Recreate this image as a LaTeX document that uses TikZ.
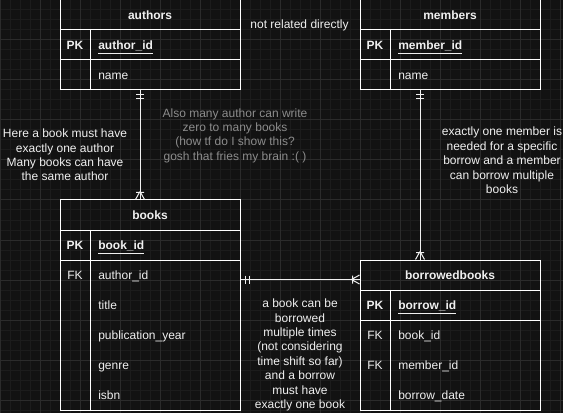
\documentclass[tikz,border=0pt]{standalone}
\usepackage{fontspec}
\setmainfont{Liberation Sans}
\usetikzlibrary{calc}
\definecolor{canvas}{HTML}{121212}
\definecolor{gridfine}{HTML}{1C1C1C}
\definecolor{gridbold}{HTML}{2B2B2B}
\definecolor{ink}{HTML}{F0F0F0}
\definecolor{faint}{HTML}{8C8C8C}
\def\drawiofont{\fontsize{9}{10.8}\selectfont}
\def\erone[#1](#2)(#3){\draw[#1,shift={(#2)},rotate=#3] (4.5,-4) -- (4.5,4) (8.5,-4) -- (8.5,4);}
\def\ermany[#1](#2)(#3){\draw[#1,shift={(#2)},rotate=#3] (7,-4) -- (7,4) (8,0) -- (0,-4.5) (8,0) -- (0,4.5);}

\begin{document}
\begin{tikzpicture}[x=0.75pt,y=-0.75pt,
	tbl/.style={draw=white, line width=0.75pt, inner sep=0pt, minimum width=135pt},
	tblline/.style={draw=white, line width=0.75pt},
	relation/.style={draw=ink, line width=0.75pt},
	tbltitle/.style={text=ink, font=\drawiofont\bfseries},
	keytag/.style={text=ink, font=\drawiofont\bfseries},
	field/.style={text=ink, font=\drawiofont, anchor=west, inner sep=0pt, text height=9.05pt, text depth=1.75pt},
	note/.style={text=ink, font=\drawiofont, align=center, inner sep=0pt},
	greynote/.style={note, text=faint}]
	%%%%% CANVAS %%%%%
	\useasboundingbox (0,0) rectangle (563,413);
	\fill[canvas] (0,0) rectangle (563,413);
	\foreach \gx in {0,10,...,560} \draw[gridfine, line width=0.75pt] (\gx,0) -- (\gx,413);
	\foreach \gy in {0,10,...,410} \draw[gridfine, line width=0.75pt] (0,\gy) -- (563,\gy);
	\foreach \gx in {0,40,...,560} \draw[gridbold, line width=0.75pt] (\gx,0) -- (\gx,413);
	\foreach \gy in {0,40,...,400} \draw[gridbold, line width=0.75pt] (0,\gy) -- (563,\gy);
	
	%%%%% AUTHORS %%%%%
	\node[tbl, minimum height=67.5pt] (authors) at (150,45) {};
	\draw[tblline] (60,30) -- (240,30);
	\draw[tblline] (60,60) -- (240,60);
	\draw[tblline] (90,30) -- (90,90);
	\node[tbltitle] (authorstitle) at (150,15) {authors};
	\node[keytag] (authorspk) at (75,45) {PK};
	\node[field, font=\drawiofont\bfseries] (authorsid) at (98,45) {\underline{author\_id}};
	\node[field] (authorsname) at (98,75) {name};
	
	%%%%% MEMBERS %%%%%
	\node[tbl, minimum height=67.5pt] (members) at (450,45) {};
	\draw[tblline] (360,30) -- (540,30);
	\draw[tblline] (360,60) -- (540,60);
	\draw[tblline] (390,30) -- (390,90);
	\node[tbltitle] (memberstitle) at (450,15) {members};
	\node[keytag] (memberspk) at (375,45) {PK};
	\node[field, font=\drawiofont\bfseries] (membersid) at (398,45) {\underline{member\_id}};
	\node[field] (membersname) at (398,75) {name};
	
	%%%%% BOOKS %%%%%
	\node[tbl, minimum height=157.5pt] (books) at (150,305) {};
	\draw[tblline] (60,230) -- (240,230);
	\draw[tblline] (60,260) -- (240,260);
	\draw[tblline] (90,230) -- (90,410);
	\node[tbltitle] (bookstitle) at (150,215) {books};
	\node[keytag] (bookspk) at (75,245) {PK};
	\node[field, font=\drawiofont\bfseries] (booksid) at (98,245) {\underline{book\_id}};
	\node[keytag, font=\drawiofont] (booksfk) at (75,275) {FK};
	\node[field] (booksauthor) at (98,275) {author\_id};
	\node[field] (bookstitlefield) at (98,305) {title};
	\node[field] (booksyear) at (98,335) {publication\_year};
	\node[field] (booksgenre) at (98,365) {genre};
	\node[field] (booksisbn) at (98,395) {isbn};
	
	%%%%% BORROWEDBOOKS %%%%%
	\node[tbl, minimum height=112.5pt] (borrowed) at (450,335) {};
	\draw[tblline] (360,290) -- (540,290);
	\draw[tblline] (360,320) -- (540,320);
	\draw[tblline] (390,290) -- (390,410);
	\node[tbltitle] (borrowedtitle) at (450,275) {borrowedbooks};
	\node[keytag] (borrowedpk) at (375,305) {PK};
	\node[field, font=\drawiofont\bfseries] (borrowedid) at (398,305) {\underline{borrow\_id}};
	\node[keytag, font=\drawiofont] (borrowedfkone) at (375,335) {FK};
	\node[field] (borrowedbook) at (398,335) {book\_id};
	\node[keytag, font=\drawiofont] (borrowedfktwo) at (375,365) {FK};
	\node[field] (borrowedmember) at (398,365) {member\_id};
	\node[field] (borroweddate) at (398,395) {borrow\_date};
	
	%%%%% RELATIONS %%%%%
	\coordinate (authorsout) at ($(authors.south)+(-10,0)$);
	\coordinate (booksin) at ($(books.north)+(-10,0)$);
	\coordinate (membersout) at ($(members.south)+(-30,0)$);
	\coordinate (borrowedin) at ($(borrowed.north)+(-30,0)$);
	\coordinate (booksout) at ($(books.north east)+(0,80)$);
	\coordinate (borrowedside) at ($(borrowed.north west)+(0,20)$);
	
	\draw[relation] (authorsout) -- (booksin);
	\erone[relation](authorsout)(-90)
	\ermany[relation](booksin)(90)
	
	\draw[relation] (membersout) -- (borrowedin);
	\erone[relation](membersout)(-90)
	\ermany[relation](borrowedin)(90)
	
	\draw[relation] (booksout) -- (borrowedside);
	\erone[relation](booksout)(0)
	\ermany[relation](borrowedside)(180)
	
	%%%%% NOTES %%%%%
	\node[note] (unrelated) at (299.5,25) {not related directly};
	\node[greynote] (authorsmany) at (235,135.5) {Also many author can write\\zero to many books\\(how tf do I show this?\\gosh that fries my brain :( )};
	\node[note] (bookauthor) at (65,155) {Here a book must have\\exactly one author\\Many books can have\\the same author};
	\node[note] (memberborrow) at (502,160.5) {exactly one member is\\needed for a specific\\borrow and a member\\can borrow multiple\\books};
	\node[note] (bookborrow) at (300,355) {a book can be\\borrowed\\multiple times\\(not considering\\time shift so far)\\and a borrow\\must have\\exactly one book};
	%%%%% END %%%%%
\end{tikzpicture}
\end{document}
